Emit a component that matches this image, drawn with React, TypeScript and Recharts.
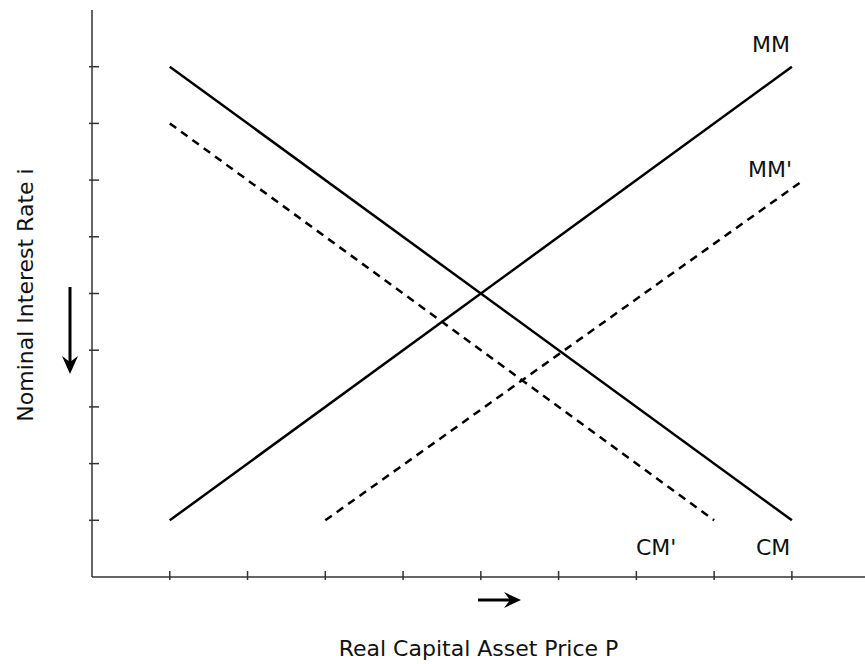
import { LineChart, Line, XAxis, YAxis, Label } from "recharts";

// curve end points, in axis units (P along x, i along y)
const cmLine = [
  { x: 1, y: 9 },
  { x: 9, y: 1 },
];
const mmLine = [
  { x: 1, y: 1 },
  { x: 9, y: 9 },
];
const cmShifted = [
  { x: 1, y: 8 },
  { x: 8, y: 1 },
];
const mmShifted = [
  { x: 3, y: 1 },
  { x: 9.15, y: 7 },
];

const xTicks = [1, 2, 3, 4, 5, 6, 7, 8, 9];
const yTicks = [1, 2, 3, 4, 5, 6, 7, 8, 9];

const curveLabels = [
  { text: "MM", left: 752, top: 32 },
  { text: "MM'", left: 748, top: 157 },
  { text: "CM'", left: 636, top: 535 },
  { text: "CM", left: 756, top: 535 },
];

const FONT = '"DejaVu Sans", Verdana, sans-serif';
const AXIS = "#333";

const XTick = (props: any) => (
  <line x1={props.x} x2={props.x} y1={props.y - 6} y2={props.y + 3} stroke={AXIS} strokeWidth={1.5} />
);
const YTick = (props: any) => (
  <line x1={props.x - 3} x2={props.x + 7} y1={props.y} y2={props.y} stroke={AXIS} strokeWidth={1.5} />
);

export default function App() {
  return (
    <div style={{ position: "absolute", left: 0, top: 0, width: 865, height: 664, background: "#fff", fontFamily: FONT }}>
      <LineChart width={865} height={664} margin={{ top: 10, right: 0, left: 0, bottom: 0 }}>
        <XAxis
          type="number"
          dataKey="x"
          domain={[0, 9.94]}
          ticks={xTicks}
          height={87}
          tickSize={0}
          tickMargin={0}
          tickLine={false}
          tick={<XTick />}
          axisLine={{ stroke: AXIS, strokeWidth: 1.5 }}
          allowDataOverflow
        >
          <Label
            value="Real Capital Asset Price P"
            position="insideBottom"
            offset={8}
            style={{ fontSize: 22, fill: "#111", fontFamily: FONT }}
          />
        </XAxis>
        <YAxis
          type="number"
          dataKey="y"
          domain={[0, 10]}
          ticks={yTicks}
          width={92}
          tickSize={0}
          tickMargin={0}
          tickLine={false}
          tick={<YTick />}
          axisLine={{ stroke: AXIS, strokeWidth: 1.5 }}
          allowDataOverflow
        />
        <Line data={mmLine} dataKey="y" stroke="#000" strokeWidth={2.5} dot={false} isAnimationActive={false} />
        <Line data={cmLine} dataKey="y" stroke="#000" strokeWidth={2.5} dot={false} isAnimationActive={false} />
        <Line data={cmShifted} dataKey="y" stroke="#000" strokeWidth={2.5} strokeDasharray="8 6" dot={false} isAnimationActive={false} />
        <Line data={mmShifted} dataKey="y" stroke="#000" strokeWidth={2.5} strokeDasharray="8 6" dot={false} isAnimationActive={false} />
      </LineChart>

      {curveLabels.map((l) => (
        <div key={l.text} style={{ position: "absolute", left: l.left, top: l.top, fontSize: 22, color: "#111", lineHeight: "26px" }}>
          {l.text}
        </div>
      ))}

      <div
        style={{
          position: "absolute",
          left: 25,
          top: 295,
          transform: "translate(-50%, -50%) rotate(-90deg)",
          whiteSpace: "nowrap",
          fontSize: 22,
          color: "#111",
        }}
      >
        Nominal Interest Rate i
      </div>

      <svg width={865} height={664} style={{ position: "absolute", left: 0, top: 0, pointerEvents: "none" }}>
        {/* direction arrows */}
        <line x1={70} y1={287} x2={70} y2={364} stroke="#000" strokeWidth={3} />
        <path d="M62 356 L70 374 L78 356 L70 362 Z" fill="#000" />
        <line x1={478} y1={600} x2={512} y2={600} stroke="#000" strokeWidth={3} />
        <path d="M504 592 L521 600 L504 608 L510 600 Z" fill="#000" />
      </svg>
    </div>
  );
}
